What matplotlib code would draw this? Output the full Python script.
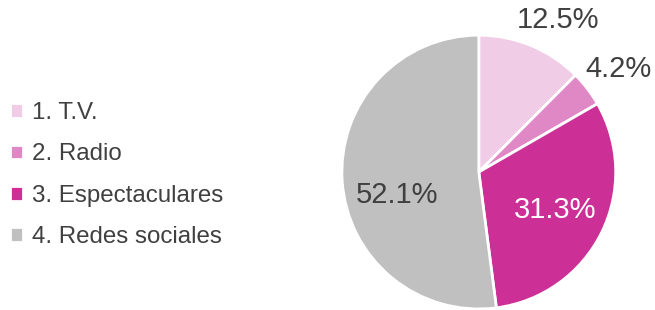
import numpy as np
import matplotlib.pyplot as plt

labels = ["1. T.V.", "2. Radio", "3. Espectaculares", "4. Redes sociales"]
values = [12.5, 4.2, 31.3, 52.1]
colors = ["#F0CCE6", "#E088C6", "#CC3096", "#C0C0C0"]
text_colors = ["#404040", "#404040", "white", "#404040"]
label_dist = [1.25, 1.27, 0.62, 0.62]
angle_shift = [-5, -1, 0, 12]

fig = plt.figure(figsize=(6.55, 3.1), dpi=100)
ax = fig.add_axes([0.522, 0.003, 0.418, 0.884])

wedges, _ = ax.pie(values, colors=colors, startangle=90, counterclock=False,
                   wedgeprops=dict(edgecolor="white", linewidth=2))
ax.set_xlim(-1, 1)
ax.set_ylim(-1, 1)
ax.set_aspect("equal")

for w, v, d, s, c in zip(wedges, values, label_dist, angle_shift, text_colors):
    ang = np.deg2rad((w.theta1 + w.theta2) / 2 + s)
    ax.text(d * np.cos(ang), d * np.sin(ang), f"{v:.1f}%", ha="center", va="center",
            fontsize=21, color=c, family="Liberation Sans", clip_on=False)

fig.legend(wedges, labels, loc="center left", bbox_to_anchor=(0.015, 0.435),
           frameon=False, handlelength=0.55, handleheight=0.55,
           handletextpad=0.35, labelspacing=0.8, labelcolor="#404040",
           borderaxespad=0, borderpad=0,
           prop={"family": "Liberation Sans", "size": 17.4})

fig.savefig("out.png", dpi=100)
